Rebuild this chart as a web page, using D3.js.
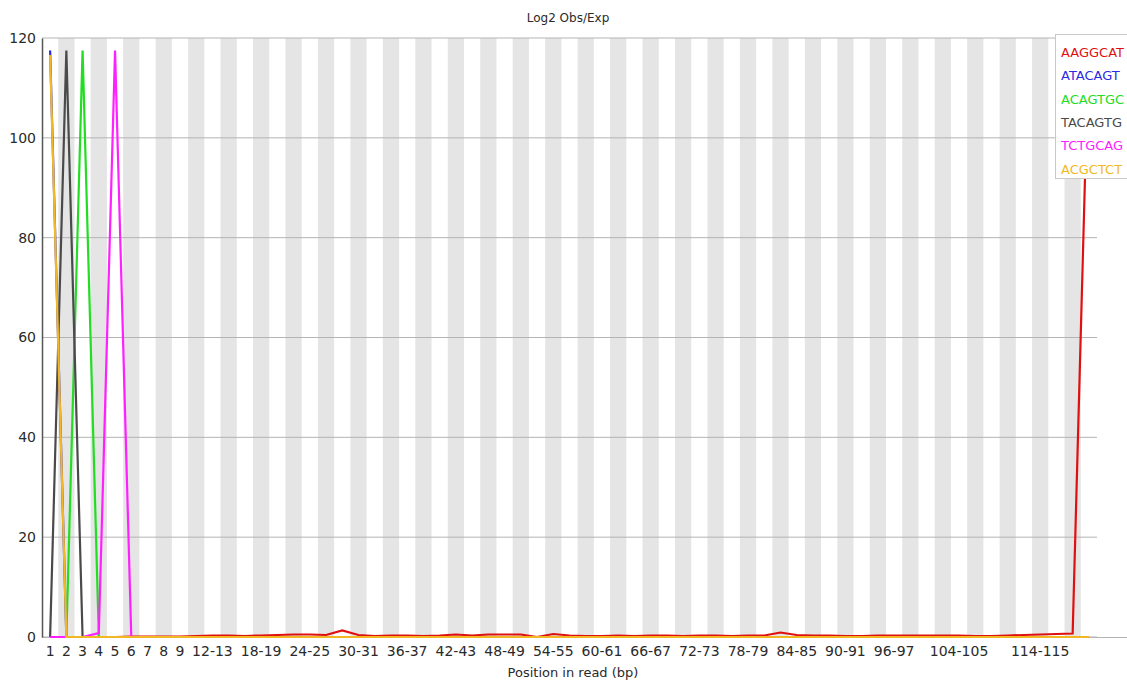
<!DOCTYPE html>
<html>
<head>
<meta charset="utf-8">
<script src="https://cdn.jsdelivr.net/npm/d3@7"></script>
<style>
  html, body { margin: 0; padding: 0; background: #fff; }
  svg { display: block; }
  text { font-family: "DejaVu Sans", sans-serif; fill: #2a2a2a; }
</style>
</head>
<body>
<svg id="chart" width="1127" height="681"></svg>
<script>
// ---------------- DATA ----------------
const categories = [
  "1","2","3","4","5","6","7","8","9",
  "10-11","12-13","14-15","16-17","18-19","20-21","22-23","24-25","26-27","28-29",
  "30-31","32-33","34-35","36-37","38-39","40-41","42-43","44-45","46-47","48-49",
  "50-51","52-53","54-55","56-57","58-59","60-61","62-63","64-65","66-67","68-69",
  "70-71","72-73","74-75","76-77","78-79","80-81","82-83","84-85","86-87","88-89",
  "90-91","92-93","94-95","96-97","98-99","100-101","102-103","104-105","106-107","108-109",
  "110-111","112-113","114-115","116-117","118-119","120-121"
];

const xTickLabels = [
  "1","2","3","4","5","6","7","8","9",
  "12-13","18-19","24-25","30-31","36-37","42-43","48-49","54-55","60-61","66-67",
  "72-73","78-79","84-85","90-91","96-97","104-105","114-115"
];

const yTicks = [0, 20, 40, 60, 80, 100, 120];

const seriesNames  = ["AAGGCAT", "ATACAGT", "ACAGTGC", "TACAGTG", "TCTGCAG", "ACGCTCT"];
const seriesColors = ["#e01010", "#2a2ae0", "#22dd22", "#4a4a4a", "#ff20ff", "#f2b824"];

const valuesAAGGCAT = [
  0, 0, 0, 0, 0, 0.1, 0.1, 0.1, 0.1, 0.2,
  0.3, 0.3, 0.2, 0.3, 0.4, 0.5, 0.5, 0.4, 1.3, 0.4,
  0.2, 0.3, 0.3, 0.2, 0.3, 0.5, 0.3, 0.5, 0.5, 0.5,
  0.0, 0.6, 0.3, 0.2, 0.2, 0.3, 0.2, 0.3, 0.3, 0.2,
  0.3, 0.3, 0.2, 0.3, 0.3, 0.9, 0.4, 0.3, 0.3, 0.2,
  0.2, 0.3, 0.3, 0.3, 0.3, 0.3, 0.3, 0.2, 0.2, 0.3,
  0.4, 0.5, 0.6, 0.7, 120.8
];
const valuesATACAGT = [
  117.5, 0, 0, 0, 0, 0, 0, 0, 0, 0,
  0, 0, 0, 0, 0, 0, 0, 0, 0, 0,
  0, 0, 0, 0, 0, 0, 0, 0, 0, 0,
  0, 0, 0, 0, 0, 0, 0, 0, 0, 0,
  0, 0, 0, 0, 0, 0, 0, 0, 0, 0,
  0, 0, 0, 0, 0, 0, 0, 0, 0, 0,
  0, 0, 0, 0, 0
];
const valuesACAGTGC = [
  0, 0, 117.5, 0, 0, 0, 0, 0, 0, 0,
  0, 0, 0, 0, 0, 0, 0, 0, 0, 0,
  0, 0, 0, 0, 0, 0, 0, 0, 0, 0,
  0, 0, 0, 0, 0, 0, 0, 0, 0, 0,
  0, 0, 0, 0, 0, 0, 0, 0, 0, 0,
  0, 0, 0, 0, 0, 0, 0, 0, 0, 0,
  0, 0, 0, 0, 0
];
const valuesTACAGTG = [
  0, 117.5, 0, 0, 0, 0, 0, 0, 0, 0,
  0, 0, 0, 0, 0, 0, 0, 0, 0, 0,
  0, 0, 0, 0, 0, 0, 0, 0, 0, 0,
  0, 0, 0, 0, 0, 0, 0, 0, 0, 0,
  0, 0, 0, 0, 0, 0, 0, 0, 0, 0,
  0, 0, 0, 0, 0, 0, 0, 0, 0, 0,
  0, 0, 0, 0, 0
];
const valuesTCTGCAG = [
  0, 0, 0, 0.8, 117.5, 0, 0, 0, 0, 0,
  0, 0, 0, 0, 0, 0, 0, 0, 0, 0,
  0, 0, 0, 0, 0, 0, 0, 0, 0, 0,
  0, 0, 0, 0, 0, 0, 0, 0, 0, 0,
  0, 0, 0, 0, 0, 0, 0, 0, 0, 0,
  0, 0, 0, 0, 0, 0, 0, 0, 0, 0,
  0, 0, 0, 0, 0
];
const valuesACGCTCT = [
  116.6, 0, 0, 0, 0, 0, 0, 0, 0, 0,
  0, 0, 0, 0, 0, 0, 0, 0, 0, 0,
  0, 0, 0, 0, 0, 0, 0, 0, 0, 0,
  0, 0, 0, 0, 0, 0, 0, 0, 0, 0,
  0, 0, 0, 0, 0, 0, 0, 0, 0, 0,
  0, 0, 0, 0, 0, 0, 0, 0, 0, 0,
  0, 0, 0, 0, 0
];

const seriesValues = [valuesAAGGCAT, valuesATACAGT, valuesACAGTGC, valuesTACAGTG, valuesTCTGCAG, valuesACGCTCT];

// ---------------- CHART ----------------
const svg = d3.select("#chart");
const mLeft = 42, mRight = 1097, mTop = 38, mBottom = 637;

const x = d3.scaleBand().domain(categories).range([mLeft, mRight]).padding(0);
const bw = x.bandwidth();
const cx = c => x(c) + bw / 2;
const y = d3.scaleLinear().domain([0, 120]).range([mBottom, mTop]);

// alternating bands
svg.append("g").selectAll("rect")
  .data(categories.filter((c, i) => i % 2 === 1))
  .join("rect")
  .attr("x", c => x(c))
  .attr("y", mTop)
  .attr("width", bw)
  .attr("height", mBottom - mTop)
  .attr("fill", "#e5e5e5");

// horizontal grid lines
svg.append("g").selectAll("line")
  .data(yTicks)
  .join("line")
  .attr("x1", mLeft).attr("x2", mRight)
  .attr("y1", d => y(d)).attr("y2", d => y(d))
  .attr("stroke", "#b4b4b4").attr("stroke-width", 1);

// x axis baseline
svg.append("line")
  .attr("x1", mLeft).attr("x2", 1127)
  .attr("y1", mBottom + 0.5).attr("y2", mBottom + 0.5)
  .attr("stroke", "#b4b4b4");

// y axis
const yAxis = d3.axisLeft(y).tickValues(yTicks).tickSize(0).tickPadding(6);
const gy = svg.append("g").attr("transform", `translate(${mLeft},0)`).call(yAxis);
gy.select(".domain").attr("stroke", "#555").attr("stroke-width", 1.5);
gy.selectAll("text").style("font-size", "14px").style("font-family", "DejaVu Sans").attr("fill", "#2a2a2a");

// x axis labels
const xAxis = d3.axisBottom(x).tickValues(xTickLabels).tickSize(0).tickPadding(9);
const gx = svg.append("g").attr("transform", `translate(0,${mBottom})`).call(xAxis);
gx.select(".domain").remove();
gx.selectAll("text").style("font-size", "14px").style("font-family", "DejaVu Sans").attr("fill", "#2a2a2a");

// lines
const line = d3.line().x((d, i) => cx(categories[i])).y(d => y(d));
seriesValues.forEach((vals, k) => {
  svg.append("path")
    .datum(vals)
    .attr("d", line)
    .attr("fill", "none")
    .attr("stroke", seriesColors[k])
    .attr("stroke-width", 2.2)
    .attr("stroke-linejoin", "miter");
});

// title
svg.append("text")
  .attr("x", 568).attr("y", 22)
  .attr("text-anchor", "middle")
  .style("font-size", "12px")
  .text("Log2 Obs/Exp");

// x axis title
svg.append("text")
  .attr("x", 573).attr("y", 677)
  .attr("text-anchor", "middle")
  .style("font-size", "13px")
  .text("Position in read (bp)");

// legend
const lg = svg.append("g");
lg.append("rect")
  .attr("x", 1055.5).attr("y", 34.5)
  .attr("width", 80).attr("height", 144)
  .attr("fill", "#fff").attr("stroke", "#c8c8c8");
lg.selectAll("text")
  .data(seriesNames)
  .join("text")
  .attr("x", 1061)
  .attr("y", (d, i) => 57 + i * 23.3)
  .style("font-size", "13px")
  .style("fill", (d, i) => seriesColors[i])
  .text(d => d);
</script>
</body>
</html>
